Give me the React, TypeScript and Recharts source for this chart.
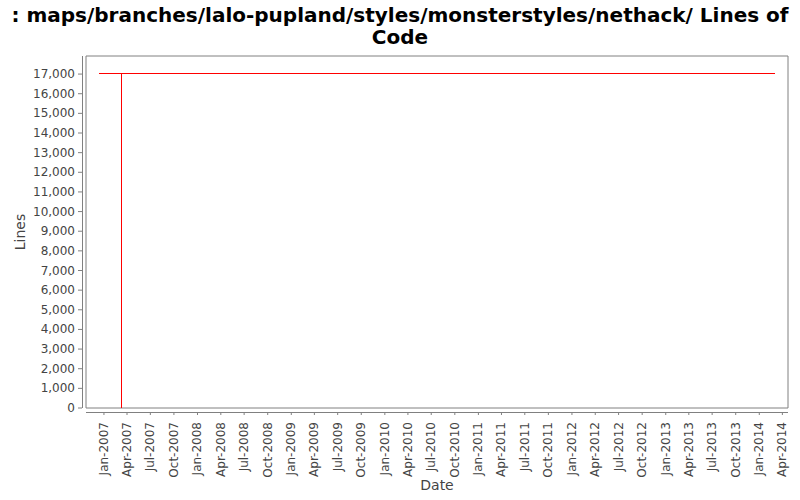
import React from "react";
import { LineChart, Line, XAxis, YAxis, ReferenceArea } from "recharts";

// lines of code over time (dates as yyyy-mm-dd)
const dates = ["2006-12-11", "2007-03-11", "2007-03-12", "2007-03-12", "2014-02-27", "2014-02-28"];
const lines = [17050, 17050, 0, 17050, 17050, 17000];

const yTicks = [0, 1000, 2000, 3000, 4000, 5000, 6000, 7000, 8000, 9000, 10000, 11000, 12000, 13000, 14000, 15000, 16000, 17000];
const tickYears = [2007, 2008, 2009, 2010, 2011, 2012, 2013, 2014];
const tickMonths = ["Jan", "Apr", "Jul", "Oct"];

const toTs = (s: string) => {
  const [y, m, d] = s.split("-").map(Number);
  return Date.UTC(y, m - 1, d);
};

const data = dates.map((d, i) => ({ t: toTs(d), v: lines[i] }));

const xTicks: number[] = [];
tickYears.forEach((y) => {
  tickMonths.forEach((_, qi) => {
    const ts = Date.UTC(y, qi * 3, 1);
    if (ts <= Date.UTC(2014, 3, 1)) xTicks.push(ts);
  });
});

const xDomain = [toTs("2006-10-23"), toTs("2014-04-23")];
const yDomain = [0, 17920];

const FONT = "'DejaVu Sans', sans-serif";
const GREY = "#808080";
const TEXT = "#444444";

const fmtDate = (ts: number) => {
  const d = new Date(ts);
  return `${tickMonths[Math.floor(d.getUTCMonth() / 3)]}-${d.getUTCFullYear()}`;
};

const XTick = (props: any) => {
  const { x, y, payload } = props;
  return (
    <g>
      <line x1={x} x2={x} y1={y + 4} y2={y + 7} stroke={GREY} />
      <text
        x={x}
        y={y + 14}
        transform={`rotate(-90, ${x}, ${y + 14})`}
        textAnchor="end"
        dominantBaseline="central"
        fontSize={12}
        fontFamily={FONT}
        fill={TEXT}
      >
        {fmtDate(payload.value)}
      </text>
    </g>
  );
};

const YTick = (props: any) => {
  const { x, y, payload } = props;
  return (
    <g>
      <line x1={x - 8} x2={x - 4} y1={y} y2={y} stroke={GREY} />
      <text
        x={x - 11}
        y={y}
        textAnchor="end"
        dominantBaseline="central"
        fontSize={12}
        fontFamily={FONT}
        fill={TEXT}
      >
        {payload.value.toLocaleString("en-US")}
      </text>
    </g>
  );
};

export default function App() {
  return (
    <div style={{ position: "absolute", left: 0, top: 0, width: 800, height: 500, background: "#fff", fontFamily: FONT }}>
      <style>{`.recharts-line-curve { shape-rendering: crispEdges; }`}</style>
      <div
        style={{
          position: "absolute",
          top: 4,
          left: 0,
          width: 800,
          textAlign: "center",
          fontWeight: "bold",
          fontSize: 20,
          lineHeight: "22px",
          color: "#000",
        }}
      >
        : maps/branches/lalo-pupland/styles/monsterstyles/nethack/ Lines of Code
      </div>
      <LineChart
        width={800}
        height={500}
        data={data}
        margin={{ top: 56, right: 12, bottom: 0, left: 10 }}
        style={{ position: "absolute", left: 0, top: 0 }}
      >
        <XAxis
          dataKey="t"
          type="number"
          scale="time"
          domain={xDomain}
          ticks={xTicks}
          interval={0}
          height={92}
          axisLine={false}
          tickLine={false}
          tickSize={0}
          tickMargin={0}
          tick={<XTick />}
          allowDataOverflow
          label={{ value: "Date", position: "insideBottom", offset: 10, fill: TEXT, fontSize: 14, fontFamily: FONT }}
        />
        <YAxis
          type="number"
          domain={yDomain}
          ticks={yTicks}
          interval={0}
          width={76}
          axisLine={false}
          tickLine={false}
          tickSize={0}
          tickMargin={0}
          tick={<YTick />}
          allowDataOverflow
          label={{
            value: "Lines",
            angle: -90,
            position: "insideLeft",
            offset: 10,
            fill: TEXT,
            fontSize: 14,
            fontFamily: FONT,
            style: { textAnchor: "middle" },
          }}
        />
        <ReferenceArea
          x1={xDomain[0]}
          x2={xDomain[1]}
          y1={yDomain[0]}
          y2={yDomain[1]}
          fill="none"
          stroke={GREY}
          strokeOpacity={1}
          ifOverflow="extendDomain"
        />
        <Line
          type="linear"
          dataKey="v"
          stroke="#ff0000"
          strokeWidth={1}
          dot={false}
          isAnimationActive={false}
        />
      </LineChart>
      {/* offset axis lines */}
      <div style={{ position: "absolute", left: 82, top: 56, width: 1, height: 352, background: GREY }} />
      <div style={{ position: "absolute", left: 86, top: 412, width: 702, height: 1, background: GREY }} />
    </div>
  );
}
